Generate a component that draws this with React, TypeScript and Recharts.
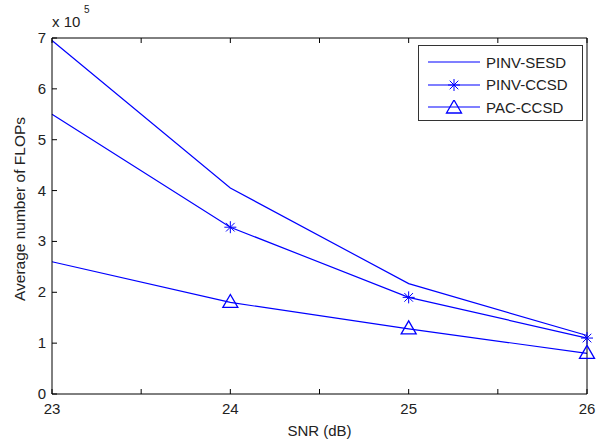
import React from 'react';
import { LineChart, Line, XAxis, YAxis } from 'recharts';

const snr = [23, 24, 25, 26];
const pinvSesd = [6.95, 4.05, 2.17, 1.15];
const pinvCcsd = [5.5, 3.28, 1.9, 1.1];
const pacCcsd = [2.6, 1.8, 1.28, 0.8];

const xTicks = [23, 23.5, 24, 24.5, 25, 25.5, 26];
const yTicks = [0, 1, 2, 3, 4, 5, 6, 7];

const seriesNames = ['PINV-SESD', 'PINV-CCSD', 'PAC-CCSD'];

const data = snr.map((s, i) => ({
  snr: s,
  sesd: pinvSesd[i],
  ccsd: pinvCcsd[i],
  pac: pacCcsd[i],
}));

const BLUE = '#0000ff';
const FONT = '"Liberation Sans", Arial, sans-serif';
const TXT = '#222';

const BottomTick = (props: any) => {
  const { x, y, payload } = props;
  return (
    <g>
      <line x1={x} y1={y} x2={x} y2={y - 5} stroke="#000" />
      {Number.isInteger(payload.value) && (
        <text x={x} y={y + 20} textAnchor="middle" fontSize={15} fill={TXT} fontFamily={FONT}>
          {payload.value}
        </text>
      )}
    </g>
  );
};

const TopTick = (props: any) => {
  const { x, y } = props;
  return <line x1={x} y1={y} x2={x} y2={y + 5} stroke="#000" />;
};

const LeftTick = (props: any) => {
  const { x, y, payload } = props;
  return (
    <g>
      <line x1={x} y1={y} x2={x + 5} y2={y} stroke="#000" />
      <text x={x - 6} y={y + 5} textAnchor="end" fontSize={15} fill={TXT} fontFamily={FONT}>
        {payload.value}
      </text>
    </g>
  );
};

const RightTick = (props: any) => {
  const { x, y } = props;
  return <line x1={x} y1={y} x2={x - 5} y2={y} stroke="#000" />;
};

// markers are only drawn from 24 dB on, as in the original figure
const StarDot = (props: any) => {
  const { cx, cy, index } = props;
  if (cx == null || cy == null || index === 0) return null;
  const r = 6;
  const d = r * 0.72;
  return (
    <g stroke={BLUE} strokeWidth={1}>
      <line x1={cx - r} y1={cy} x2={cx + r} y2={cy} />
      <line x1={cx} y1={cy - r} x2={cx} y2={cy + r} />
      <line x1={cx - d} y1={cy - d} x2={cx + d} y2={cy + d} />
      <line x1={cx - d} y1={cy + d} x2={cx + d} y2={cy - d} />
    </g>
  );
};

const TriDot = (props: any) => {
  const { cx, cy, index } = props;
  if (cx == null || cy == null || index === 0) return null;
  const w = 7.5;
  return (
    <polygon
      points={`${cx},${cy - 8} ${cx - w},${cy + 5} ${cx + w},${cy + 5}`}
      fill="none"
      stroke={BLUE}
      strokeWidth={1.3}
    />
  );
};

const LegendIcon = ({ kind }: { kind: number }) => (
  <svg width={52} height={14} style={{ display: 'block' }}>
    <line x1={0} y1={7} x2={52} y2={7} stroke={BLUE} strokeWidth={1.2} />
    {kind === 1 && <StarDot cx={26} cy={7} index={1} />}
    {kind === 2 && <TriDot cx={26} cy={8} index={1} />}
  </svg>
);

export default function App() {
  return (
    <div style={{ position: 'absolute', left: 0, top: 0, width: 608, height: 447, background: '#fff' }}>
      <LineChart
        width={608}
        height={447}
        data={data}
        margin={{ top: 37, right: 20, bottom: 52, left: 51 }}
      >
        <XAxis
          dataKey="snr"
          type="number"
          domain={[23, 26]}
          ticks={xTicks}
          interval={0}
          height={1}
          tickSize={0}
          tickMargin={0}
          tickLine={false}
          axisLine={{ stroke: '#000' }}
          tick={<BottomTick />}
          label={{
            value: 'SNR (dB)',
            position: 'bottom',
            offset: 30,
            fontSize: 15,
            fill: TXT,
            fontFamily: FONT,
          }}
        />
        <XAxis
          xAxisId="top"
          orientation="top"
          dataKey="snr"
          type="number"
          domain={[23, 26]}
          ticks={xTicks}
          interval={0}
          height={1}
          tickSize={0}
          tickMargin={0}
          tickLine={false}
          axisLine={{ stroke: '#000' }}
          tick={<TopTick />}
        />
        <YAxis
          type="number"
          domain={[0, 7]}
          ticks={yTicks}
          interval={0}
          width={1}
          tickSize={0}
          tickMargin={0}
          tickLine={false}
          axisLine={{ stroke: '#000' }}
          tick={<LeftTick />}
          label={{
            content: ({ viewBox }: any) => {
              const cy = viewBox.y + viewBox.height / 2 - 7;
              return (
                <text
                  x={21}
                  y={cy}
                  transform={`rotate(-90 21 ${cy})`}
                  textAnchor="middle"
                  dominantBaseline="middle"
                  fontSize={15.5}
                  fill={TXT}
                  fontFamily={FONT}
                >
                  Average number of FLOPs
                </text>
              );
            },
          }}
        />
        <YAxis
          yAxisId="right"
          orientation="right"
          type="number"
          domain={[0, 7]}
          ticks={yTicks}
          interval={0}
          width={1}
          tickSize={0}
          tickMargin={0}
          tickLine={false}
          axisLine={{ stroke: '#000' }}
          tick={<RightTick />}
        />
        <Line
          dataKey="sesd"
          name={seriesNames[0]}
          stroke={BLUE}
          strokeWidth={1.2}
          dot={false}
          activeDot={false}
          isAnimationActive={false}
        />
        <Line
          dataKey="ccsd"
          name={seriesNames[1]}
          stroke={BLUE}
          strokeWidth={1.2}
          dot={<StarDot />}
          activeDot={false}
          isAnimationActive={false}
        />
        <Line
          dataKey="pac"
          name={seriesNames[2]}
          stroke={BLUE}
          strokeWidth={1.2}
          dot={<TriDot />}
          activeDot={false}
          isAnimationActive={false}
        />
      </LineChart>

      <div
        style={{
          position: 'absolute',
          left: 52,
          top: 13,
          fontFamily: FONT,
          fontSize: 15,
          color: TXT,
          whiteSpace: 'nowrap',
        }}
      >
        x 10
        <span style={{ position: 'absolute', left: 32, top: -9, fontSize: 10 }}>5</span>
      </div>

      <div
        style={{
          position: 'absolute',
          left: 418,
          top: 45,
          width: 163,
          height: 74,
          border: '1px solid #333',
          background: '#fff',
          fontFamily: FONT,
          fontSize: 15,
          color: TXT,
        }}
      >
        {seriesNames.map((n, i) => (
          <div
            key={n}
            style={{
              position: 'absolute',
              left: 9,
              top: 8 + i * 22.5,
              display: 'flex',
              alignItems: 'center',
              height: 16,
            }}
          >
            <LegendIcon kind={i} />
            <span style={{ marginLeft: 6, whiteSpace: 'nowrap' }}>{n}</span>
          </div>
        ))}
      </div>
    </div>
  );
}
